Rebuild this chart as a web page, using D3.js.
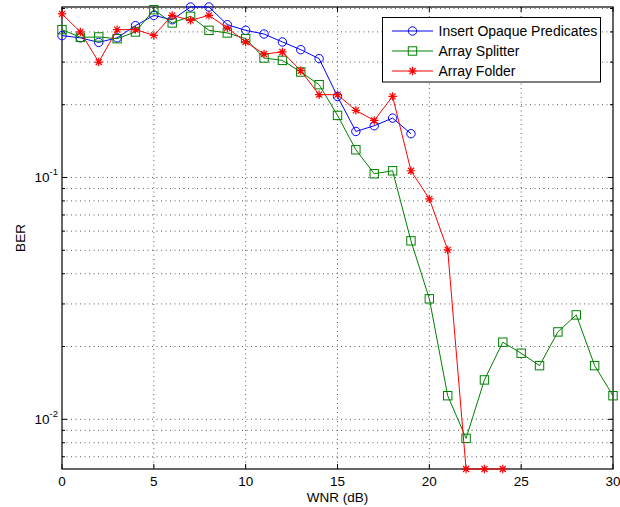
<!DOCTYPE html>
<html><head><meta charset="utf-8">
<script src="https://cdn.jsdelivr.net/npm/d3@7"></script>
<style>body{margin:0;background:#fff} text{font-family:"Liberation Sans",Arial,Helvetica,sans-serif;fill:#000}</style>
</head><body><svg id="c" width="620" height="507"></svg>
<script>
// ---- data ----
const seriesNames = ["Insert Opaque Predicates", "Array Splitter", "Array Folder"];
const opaqueX = [0,1,2,3,4,5,6,7,8,9,10,11,12,13,14,15,16,17,18,19];
const opaqueBER = [0.386,0.378,0.362,0.378,0.4245,0.468,0.449,0.507,0.507,0.4285,0.406,0.392,0.3634,0.3377,0.310,0.2164,0.155,0.1637,0.176,0.1517];
const splitterX = [0,1,2,3,4,5,6,7,8,9,10,11,12,13,14,15,16,17,18,19,20,21,22,23,24,25,26,27,28,29,30];
const splitterBER = [0.4087,0.3797,0.3812,0.375,0.3997,0.4943,0.4356,0.4638,0.406,0.396,0.375,0.312,0.305,0.273,0.242,0.1806,0.1302,0.1036,0.1066,0.0547,0.0315,0.01252,0.00834,0.01455,0.02084,0.01876,0.01667,0.02298,0.02702,0.01667,0.01252];
const folderX = [0,1,2,3,4,5,6,7,8,9,10,11,12,13,14,15,16,17,18,19,20,21,22,23,24];
const folderBER = [0.4746,0.3997,0.3002,0.4087,0.4087,0.387,0.468,0.4466,0.468,0.4154,0.3634,0.324,0.3304,0.2764,0.22,0.22,0.1894,0.1721,0.2164,0.1066,0.0816,0.0502,0.00623,0.00623,0.00623];
const xTicks = [0,5,10,15,20,25,30];
const yMajorTicks = [0.01, 0.1];
const xLabel = "WNR (dB)";
const yLabel = "BER";

// ---- layout ----
const svg = d3.select("#c");
const L = 62, R = 613, T = 7, B = 469;
const allY = opaqueBER.concat(splitterBER, folderBER);
const x = d3.scaleLinear().domain([0, 30]).range([L, R]);
const y = d3.scaleLog().domain([d3.min(allY), d3.max(allY)]).range([B, T]);

const series = [
  {name: seriesNames[0], xs: opaqueX, ys: opaqueBER, color: "#0000ff", marker: "circle"},
  {name: seriesNames[1], xs: splitterX, ys: splitterBER, color: "#008000", marker: "square"},
  {name: seriesNames[2], xs: folderX, ys: folderBER, color: "#ff0000", marker: "star"}
];

// minor ticks
const [y0, y1] = y.domain();
const minorTicks = [];
for (let d = -3; d <= 0; d++) for (let k = 1; k <= 9; k++) {
  const v = k * Math.pow(10, d);
  if (v >= y0 && v <= y1) minorTicks.push(v);
}

// grid
const g = svg.append("g");
g.selectAll(".hg").data(minorTicks).join("line")
  .attr("x1", L).attr("x2", R).attr("y1", d => y(d)).attr("y2", d => y(d))
  .attr("stroke", "#333").attr("stroke-width", 0.8).attr("stroke-dasharray", "1,3.5");
g.selectAll(".vg").data(xTicks.slice(1, -1)).join("line")
  .attr("x1", d => x(d)).attr("x2", d => x(d)).attr("y1", T).attr("y2", B)
  .attr("stroke", "#333").attr("stroke-width", 0.8).attr("stroke-dasharray", "1,3.5");

// ticks
const tk = svg.append("g").attr("stroke", "#000").attr("stroke-width", 1);
xTicks.forEach(v => {
  tk.append("line").attr("x1", x(v)).attr("x2", x(v)).attr("y1", B).attr("y2", B - 5);
  tk.append("line").attr("x1", x(v)).attr("x2", x(v)).attr("y1", T).attr("y2", T + 5);
});
minorTicks.forEach(v => {
  const len = yMajorTicks.includes(v) ? 5 : 3;
  tk.append("line").attr("x1", L).attr("x2", L + len).attr("y1", y(v)).attr("y2", y(v));
  tk.append("line").attr("x1", R).attr("x2", R - len).attr("y1", y(v)).attr("y2", y(v));
});

// box
svg.append("rect").attr("x", L).attr("y", T).attr("width", R - L).attr("height", B - T)
  .attr("fill", "none").attr("stroke", "#000").attr("stroke-width", 1.2);

// tick labels
svg.append("g").selectAll("text").data(xTicks).join("text")
  .attr("x", d => x(d)).attr("y", B + 17).attr("text-anchor", "middle")
  .attr("font-size", 13.5).text(d => d);
yMajorTicks.forEach(v => {
  const t = svg.append("text").attr("x", 58).attr("y", y(v) + 5).attr("text-anchor", "end").attr("font-size", 13.5);
  t.append("tspan").text("10");
  t.append("tspan").attr("dy", -7).attr("font-size", 9.5).text(String(Math.round(Math.log10(v))));
});

// axis labels
svg.append("text").attr("x", (L + R) / 2).attr("y", B + 33).attr("text-anchor", "middle")
  .attr("font-size", 13.5).text(xLabel);
svg.append("text").attr("transform", `translate(25,${(T + B) / 2}) rotate(-90)`)
  .attr("text-anchor", "middle").attr("font-size", 13.5).text(yLabel);

// marker drawing
function drawMarker(sel, type, color, cx, cy) {
  if (type === "circle") {
    sel.append("circle").attr("cx", cx).attr("cy", cy).attr("r", 4.2)
      .attr("fill", "none").attr("stroke", color).attr("stroke-width", 1);
  } else if (type === "square") {
    sel.append("rect").attr("x", cx - 4.2).attr("y", cy - 4.2).attr("width", 8.4).attr("height", 8.4)
      .attr("fill", "none").attr("stroke", color).attr("stroke-width", 1);
  } else {
    const s = 4.2, d = 3;
    const p = `M${cx - s},${cy}L${cx + s},${cy}M${cx},${cy - s}L${cx},${cy + s}` +
      `M${cx - d},${cy - d}L${cx + d},${cy + d}M${cx - d},${cy + d}L${cx + d},${cy - d}`;
    sel.append("path").attr("d", p).attr("stroke", color).attr("stroke-width", 1.2).attr("fill", "none");
  }
}

// series
const line = d3.line().x(d => x(d[0])).y(d => y(d[1]));
series.forEach(s => {
  const pts = s.xs.map((v, i) => [v, s.ys[i]]);
  const gs = svg.append("g");
  gs.append("path").attr("d", line(pts)).attr("fill", "none").attr("stroke", s.color).attr("stroke-width", 1);
  pts.forEach(p => drawMarker(gs, s.marker, s.color, x(p[0]), y(p[1])));
});

// legend
const lg = svg.append("g");
lg.append("rect").attr("x", 382.5).attr("y", 17.5).attr("width", 218).attr("height", 64.5)
  .attr("fill", "#fff").attr("stroke", "#000").attr("stroke-width", 1);
series.forEach((s, i) => {
  const ly = 31 + i * 20;
  lg.append("line").attr("x1", 392).attr("x2", 433).attr("y1", ly).attr("y2", ly)
    .attr("stroke", s.color).attr("stroke-width", 1);
  drawMarker(lg, s.marker, s.color, 412.5, ly);
  lg.append("text").attr("x", 438.5).attr("y", ly + 5).attr("font-size", 14).text(s.name);
});
</script></body></html>
